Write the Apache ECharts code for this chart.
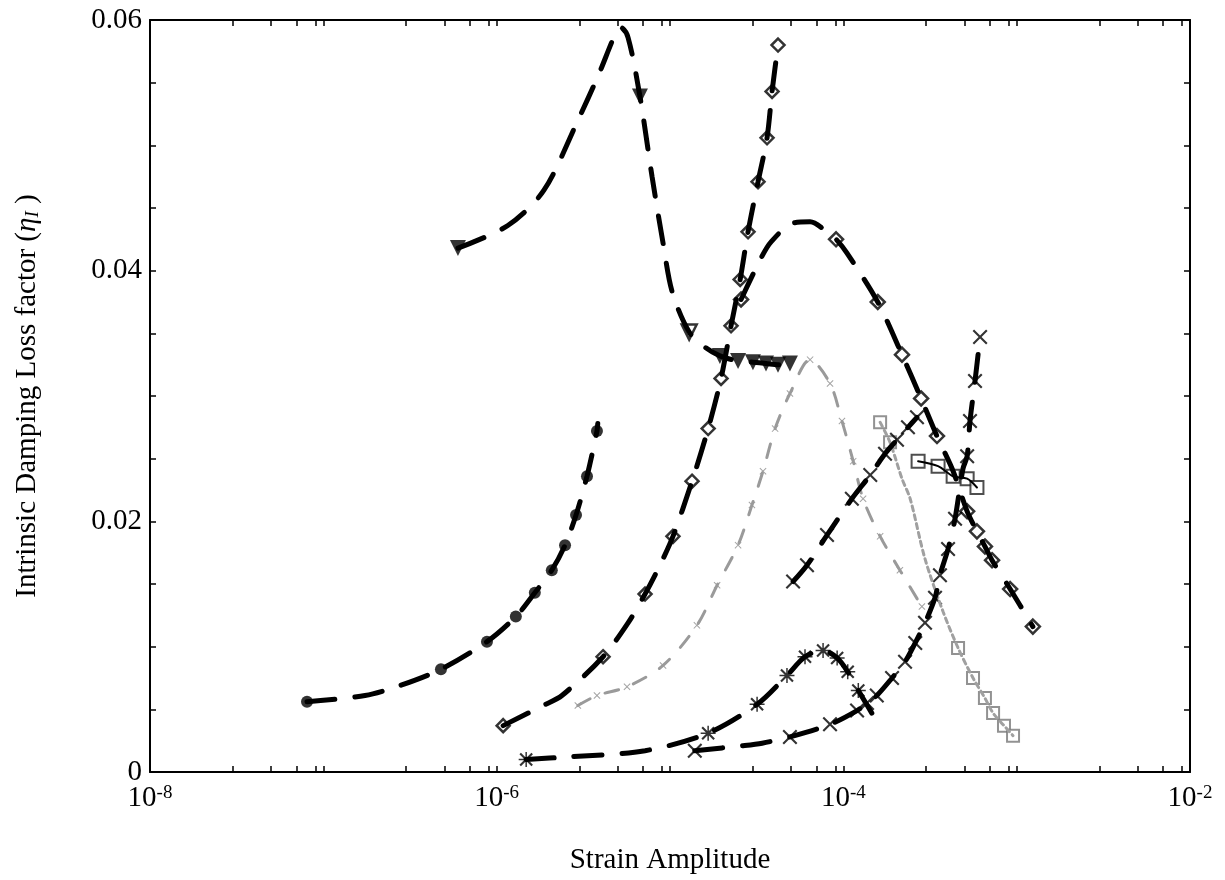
<!DOCTYPE html>
<html>
<head>
<meta charset="utf-8">
<script src="https://cdn.jsdelivr.net/npm/echarts@6/dist/echarts.min.js"></script>
<style>
  html, body { margin: 0; padding: 0; background: #fff; }
  #chart { width: 1225px; height: 880px; }
</style>
</head>
<body>
<div id="chart"></div>
<script>
// filled circles
const circX = [8.05e-8, 1.74e-7, 2.77e-7, 4.77e-7, 8.79e-7, 1.29e-6, 1.66e-6, 2.08e-6, 2.48e-6, 2.87e-6, 3.32e-6, 3.79e-6, 3.83e-6];
const circY = [0.0056, 0.0061, 0.0069, 0.0082, 0.0104, 0.0124, 0.0143, 0.0161, 0.0181, 0.0205, 0.0236, 0.0272, 0.0278];
const circMarkX = [8.05e-8, 4.77e-7, 8.79e-7, 1.29e-6, 1.66e-6, 2.08e-6, 2.48e-6, 2.87e-6, 3.32e-6, 3.79e-6];
const circMarkY = [0.0056, 0.0082, 0.0104, 0.0124, 0.0143, 0.0161, 0.0181, 0.0205, 0.0236, 0.0272];

// filled down triangles
const triX = [5.98e-7, 1.16e-6, 1.87e-6, 2.90e-6, 3.89e-6, 4.88e-6, 5.21e-6, 5.73e-6, 6.71e-6, 7.88e-6, 9.12e-6, 1.03e-5, 1.29e-5, 1.59e-5, 1.94e-5, 2.47e-5, 3.01e-5, 3.58e-5, 4.20e-5, 4.92e-5];
const triY = [0.0418, 0.0436, 0.0464, 0.0518, 0.0557, 0.0590, 0.0594, 0.0586, 0.0539, 0.0475, 0.0422, 0.0383, 0.0351, 0.0339, 0.0332, 0.0328, 0.0327, 0.0326, 0.0325, 0.0326];
const triMarkX = [5.98e-7, 6.71e-6, 1.94e-5, 2.47e-5, 3.01e-5, 3.58e-5, 4.20e-5, 4.92e-5];
const triMarkY = [0.0418, 0.0539, 0.0332, 0.0328, 0.0327, 0.0326, 0.0325, 0.0326];
const openTriX = [1.29e-5];
const openTriY = [0.0351];

// diamonds, steep branch
const dia1X = [1.09e-6, 1.85e-6, 2.38e-6, 4.11e-6, 5.73e-6, 7.18e-6, 8.75e-6, 1.04e-5, 1.34e-5, 1.66e-5, 1.97e-5, 2.25e-5, 2.54e-5, 2.82e-5, 3.22e-5, 3.63e-5, 3.88e-5, 4.20e-5];
const dia1Y = [0.0037, 0.0053, 0.0061, 0.0092, 0.0119, 0.0142, 0.0165, 0.0188, 0.0232, 0.0274, 0.0314, 0.0356, 0.0393, 0.0431, 0.0471, 0.0506, 0.0543, 0.0580];
const dia1MarkX = [1.09e-6, 4.11e-6, 7.18e-6, 1.04e-5, 1.34e-5, 1.66e-5, 1.97e-5, 2.25e-5, 2.54e-5, 2.82e-5, 3.22e-5, 3.63e-5, 3.88e-5, 4.20e-5];
const dia1MarkY = [0.0037, 0.0092, 0.0142, 0.0188, 0.0232, 0.0274, 0.0314, 0.0356, 0.0393, 0.0431, 0.0471, 0.0506, 0.0543, 0.0580];

// diamonds, arc branch
const dia2X = [2.57e-5, 3.35e-5, 3.83e-5, 5.13e-5, 6.43e-5, 8.05e-5, 9.08e-5, 1.05e-4, 1.58e-4, 2.18e-4, 2.81e-4, 3.47e-4, 4.30e-4, 5.18e-4, 5.90e-4, 6.56e-4, 7.21e-4, 9.17e-4, 1.24e-3];
const dia2Y = [0.0377, 0.0410, 0.0423, 0.0438, 0.0439, 0.0431, 0.0425, 0.0414, 0.0375, 0.0333, 0.0298, 0.0268, 0.0240, 0.0208, 0.0192, 0.0180, 0.0169, 0.0146, 0.0116];
const dia2MarkX = [2.57e-5, 9.08e-5, 1.58e-4, 2.18e-4, 2.81e-4, 3.47e-4, 5.18e-4, 5.90e-4, 6.56e-4, 7.21e-4, 9.17e-4, 1.24e-3];
const dia2MarkY = [0.0377, 0.0425, 0.0375, 0.0333, 0.0298, 0.0268, 0.0208, 0.0192, 0.0180, 0.0169, 0.0146, 0.0116];

// gray dotted curve
const grayX = [2.94e-6, 3.79e-6, 5.65e-6, 9.12e-6, 1.43e-5, 1.87e-5, 2.47e-5, 2.97e-5, 3.44e-5, 4.04e-5, 4.92e-5, 6.43e-5, 8.38e-5, 9.82e-5, 1.14e-4, 1.30e-4, 1.63e-4, 2.12e-4, 2.84e-4];
const grayY = [0.0053, 0.0061, 0.0068, 0.0085, 0.0117, 0.0149, 0.0181, 0.0213, 0.0240, 0.0274, 0.0302, 0.0329, 0.0310, 0.0280, 0.0248, 0.0218, 0.0188, 0.0161, 0.0132];

// squares
const sq1X = [2.70e-4, 3.52e-4, 4.30e-4, 5.18e-4, 5.90e-4];
const sq1Y = [0.0248, 0.0244, 0.0236, 0.0234, 0.0227];
const sq2X = [1.63e-4, 1.86e-4, 2.18e-4, 2.43e-4, 2.96e-4, 3.76e-4, 4.59e-4, 5.60e-4, 6.56e-4, 7.31e-4, 8.45e-4, 9.53e-4];
const sq2Y = [0.0279, 0.0263, 0.0234, 0.0218, 0.0170, 0.0128, 0.0099, 0.0075, 0.0059, 0.0047, 0.0037, 0.0029];
const sq2MarkX = [1.63e-4, 1.86e-4, 4.59e-4, 5.60e-4, 6.56e-4, 7.31e-4, 8.45e-4, 9.53e-4];
const sq2MarkY = [0.0279, 0.0263, 0.0099, 0.0075, 0.0059, 0.0047, 0.0037, 0.0029];

// asterisks
const astX = [1.48e-6, 2.55e-6, 7.18e-6, 1.66e-5, 3.18e-5, 4.73e-5, 6.01e-5, 7.64e-5, 9.21e-5, 1.06e-4, 1.22e-4, 1.46e-4];
const astY = [0.0010, 0.0012, 0.0017, 0.0031, 0.0054, 0.0077, 0.0092, 0.0097, 0.0091, 0.0080, 0.0065, 0.0047];
const astMarkX = [1.48e-6, 1.66e-5, 3.18e-5, 4.73e-5, 6.01e-5, 7.64e-5, 9.21e-5, 1.06e-4, 1.22e-4];
const astMarkY = [0.0010, 0.0031, 0.0054, 0.0077, 0.0092, 0.0097, 0.0091, 0.0080, 0.0065];

// crosses, long branch
const crsX = [1.39e-5, 2.64e-5, 3.40e-5, 4.92e-5, 8.38e-5, 1.20e-4, 1.37e-4, 1.56e-4, 1.91e-4, 2.27e-4, 2.60e-4, 2.96e-4, 3.38e-4, 3.61e-4, 4.02e-4, 4.41e-4, 4.90e-4, 5.18e-4, 5.38e-4, 5.75e-4, 6.15e-4];
const crsY = [0.0017, 0.0021, 0.0023, 0.0028, 0.0038, 0.0049, 0.0055, 0.0061, 0.0075, 0.0088, 0.0103, 0.0119, 0.0139, 0.0157, 0.0178, 0.0202, 0.0242, 0.0252, 0.0280, 0.0312, 0.0347];
const crsMarkX = [1.39e-5, 4.92e-5, 8.38e-5, 1.20e-4, 1.37e-4, 1.56e-4, 1.91e-4, 2.27e-4, 2.60e-4, 2.96e-4, 3.38e-4, 3.61e-4, 4.02e-4, 4.41e-4, 5.18e-4, 5.38e-4, 5.75e-4, 6.15e-4];
const crsMarkY = [0.0017, 0.0028, 0.0038, 0.0049, 0.0055, 0.0061, 0.0075, 0.0088, 0.0103, 0.0119, 0.0139, 0.0157, 0.0178, 0.0202, 0.0252, 0.0280, 0.0312, 0.0347];

// crosses, short branch
const crs2X = [5.13e-5, 6.17e-5, 8.05e-5, 1.12e-4, 1.43e-4, 1.74e-4, 2.04e-4, 2.36e-4, 2.66e-4];
const crs2Y = [0.0152, 0.0165, 0.0189, 0.0218, 0.0237, 0.0254, 0.0265, 0.0275, 0.0283];

// axes (x is drawn in log10 space)
const xLabelPos = [-8, -6, -4, -2];
const xTickPos = [];
for (let d = -8; d <= -2; d++) {
  xTickPos.push(d);
  if (d < -2) [3, 5, 7, 9].forEach(k => xTickPos.push(d + Math.log10(k)));
}
const yTickPos = [];
for (let i = 0; i <= 12; i++) yTickPos.push(+(i * 0.005).toFixed(3));

const FONT = 'Liberation Serif';
const CROSS = 'path://M0,2L2,0L10,8L18,0L20,2L12,10L20,18L18,20L10,12L2,20L0,18L8,10Z';
const STAR = 'path://M1,3L3,1L10,8L17,1L19,3L12,10L19,17L17,19L10,12L3,19L1,17L8,10Z M9,0L11,0L11,20L9,20Z M0,9L20,9L20,11L0,11Z';

const toPts = (xs, ys) => xs.map((x, i) => [Math.log10(x), ys[i]]);

function curve(xs, ys, style) {
  return {
    type: 'line', data: toPts(xs, ys), showSymbol: false, smooth: 0.3, z: 3, silent: true,
    lineStyle: Object.assign({ color: '#000', width: 5, type: [28, 20], cap: 'round' }, style)
  };
}
function marks(xs, ys, symbol, size, itemStyle, extra) {
  return Object.assign({
    type: 'scatter', data: toPts(xs, ys), symbol: symbol, symbolSize: size, z: 2, silent: true,
    itemStyle: itemStyle
  }, extra || {});
}

const black = { color: '#000' };
const open = { color: '#fff', borderColor: '#000', borderWidth: 2.5 };

const chart = echarts.init(document.getElementById('chart'));

const frameLine = { show: true, onZero: false, lineStyle: { color: '#000', width: 2 } };

chart.setOption({
  animation: false,
  backgroundColor: '#fff',
  grid: { left: 150, right: 35, top: 20, bottom: 106 },
  xAxis: [
    {
      type: 'value', min: -8, max: -2, position: 'bottom',
      axisLine: frameLine,
      axisTick: { show: true, inside: true, length: 6, customValues: xTickPos, lineStyle: { color: '#000', width: 1.5 } },
      axisLabel: {
        customValues: xLabelPos, margin: 12, color: '#000',
        formatter: v => '{b|10}{s|' + v + '}',
        rich: {
          b: { fontFamily: FONT, fontSize: 29, color: '#000', verticalAlign: 'bottom', lineHeight: 29 },
          s: { fontFamily: FONT, fontSize: 19, color: '#000', verticalAlign: 'top', lineHeight: 19, padding: [0, 0, 18, 0] }
        }
      },
      splitLine: { show: false },
      name: 'Strain Amplitude', nameLocation: 'middle', nameGap: 74,
      nameTextStyle: { fontFamily: FONT, fontSize: 29, color: '#000' }
    },
    {
      type: 'value', min: -8, max: -2, position: 'top',
      axisLine: frameLine,
      axisTick: { show: true, inside: true, length: 6, customValues: xTickPos, lineStyle: { color: '#000', width: 1.5 } },
      axisLabel: { show: false },
      splitLine: { show: false }
    }
  ],
  yAxis: [
    {
      type: 'value', min: 0, max: 0.06, interval: 0.02, position: 'left',
      axisLine: frameLine,
      axisTick: { show: true, inside: true, length: 6, customValues: yTickPos, lineStyle: { color: '#000', width: 1.5 } },
      axisLabel: { fontFamily: FONT, fontSize: 29, color: '#000', margin: 8 },
      splitLine: { show: false },
      name: 'Intrinsic Damping Loss factor ({i|η}{sub|I} )',
      nameLocation: 'middle', nameRotate: 90, nameGap: 108,
      nameTextStyle: {
        fontFamily: FONT, fontSize: 29, color: '#000',
        rich: {
          i: { fontFamily: FONT, fontSize: 29, color: '#000', fontStyle: 'italic' },
          sub: { fontFamily: FONT, fontSize: 19, color: '#000', fontStyle: 'italic', verticalAlign: 'bottom' }
        }
      }
    },
    {
      type: 'value', min: 0, max: 0.06, interval: 0.02, position: 'right',
      axisLine: frameLine,
      axisTick: { show: true, inside: true, length: 6, customValues: yTickPos, lineStyle: { color: '#000', width: 1.5 } },
      axisLabel: { show: false },
      splitLine: { show: false }
    }
  ],
  series: [
    curve(circX, circY),
    marks(circMarkX, circMarkY, 'circle', 12, black),

    curve(triX, triY),
    marks(triMarkX, triMarkY, 'triangle', 16, black, { symbolRotate: 180 }),
    marks(openTriX, openTriY, 'triangle', 15, open, { symbolRotate: 180 }),

    curve(dia1X, dia1Y),
    marks(dia1MarkX, dia1MarkY, 'diamond', 13, open),

    curve(dia2X, dia2Y),
    marks(dia2MarkX, dia2MarkY, 'diamond', 14, open),

    curve(grayX, grayY, { color: '#9a9a9a', width: 3, type: [14, 16] }),
    marks(grayX, grayY, CROSS, 7, { color: '#8c8c8c' }),

    curve(sq1X, sq1Y, { width: 2, type: 'solid' }),
    marks(sq1X, sq1Y, 'rect', 13, { color: '#fff', borderColor: '#222', borderWidth: 2 }),

    curve(sq2X, sq2Y, { color: '#a0a0a0', width: 3, type: [5, 4] }),
    marks(sq2MarkX, sq2MarkY, 'rect', 12, { color: '#fff', borderColor: '#777', borderWidth: 2 }),

    curve(astX, astY),
    marks(astMarkX, astMarkY, STAR, 15, black),

    curve(crsX, crsY),
    marks(crsMarkX, crsMarkY, CROSS, 15, black),

    curve(crs2X, crs2Y),
    marks(crs2X, crs2Y, CROSS, 15, black)
  ]
});
</script>
</body>
</html>
